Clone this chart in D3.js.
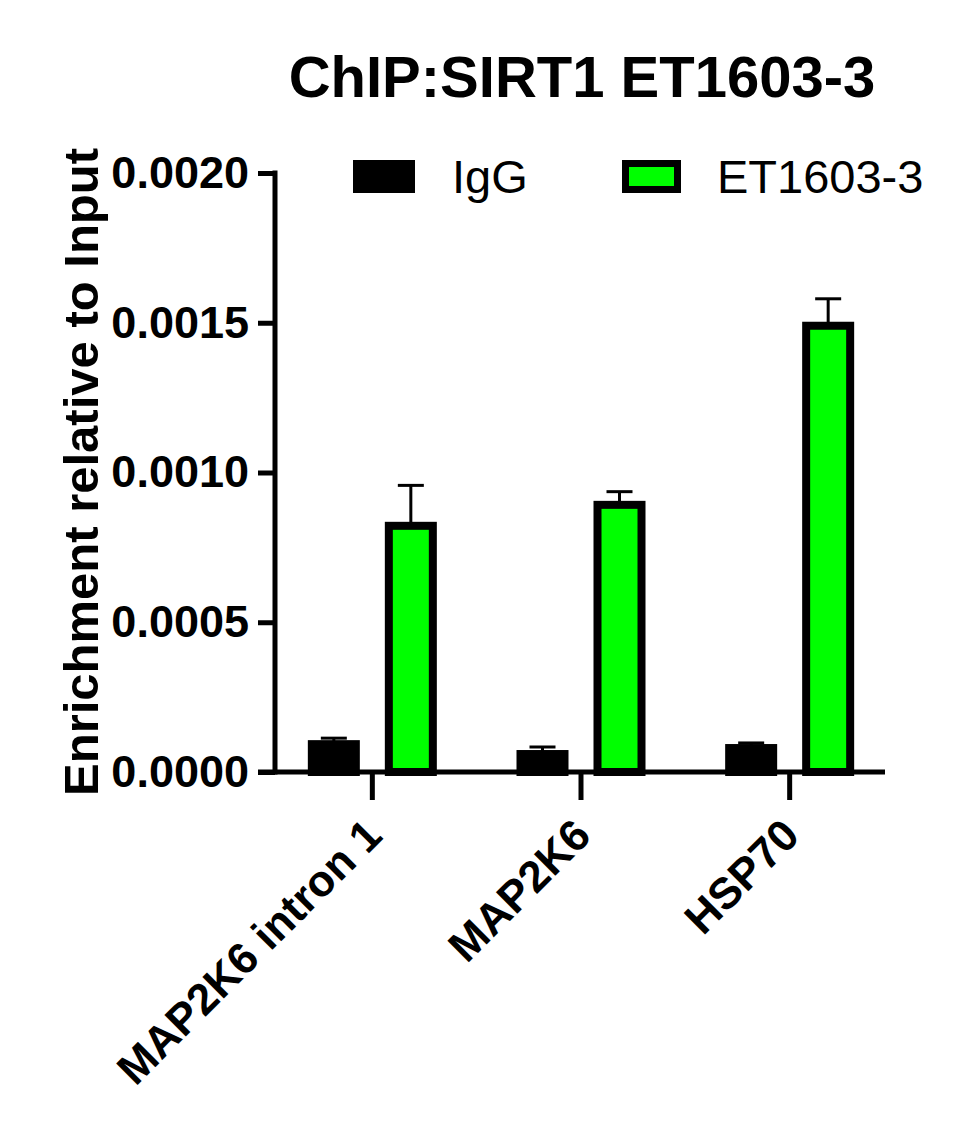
<!DOCTYPE html>
<html>
<head>
<meta charset="utf-8">
<script src="https://cdn.jsdelivr.net/npm/d3@7"></script>
<style>
  body { margin: 0; background: #fff; }
  svg { display: block; font-family: "Liberation Sans", Arial, sans-serif; }
</style>
</head>
<body>
<svg id="chart"></svg>
<script>
// data
const categories = ["MAP2K6 intron 1", "MAP2K6", "HSP70"];
const seriesNames = ["IgG", "ET1603-3"];
const iggMean = [0.000093, 0.000060, 0.000080];
const iggErr = [0.000020, 0.0000235, 0.000017];
const etMean = [0.000822, 0.000892, 0.00149];
const etErr = [0.000135, 0.000044, 0.00009];
const yTicks = [0, 0.0005, 0.0010, 0.0015, 0.0020];

const width = 971, height = 1146;
const axisX = 275, axisY = 772, axisTop = 173, axisRight = 885;
const barW = 44, barStroke = 8;
const colors = { "IgG": "#000000", "ET1603-3": "#00ff00" };

const svg = d3.select("#chart")
  .attr("width", width)
  .attr("height", height);

// scales
const y = d3.scaleLinear().domain([0, 0.002]).range([axisY, axisTop]);
const x = d3.scaleBand().domain(categories).range([268, 894]);
const xSub = d3.scalePoint().domain(seriesNames).range([-38.5, 38.5]);

const rows = [];
categories.forEach((c, i) => {
  rows.push({ cat: c, s: "IgG", v: iggMean[i], e: iggErr[i] });
  rows.push({ cat: c, s: "ET1603-3", v: etMean[i], e: etErr[i] });
});
const cx = d => x(d.cat) + x.bandwidth() / 2 + xSub(d.s);

// error bars (drawn under bars)
const err = svg.append("g")
  .attr("stroke", "#000")
  .attr("stroke-width", 3);
err.selectAll("line.stem")
  .data(rows)
  .join("line")
  .attr("class", "stem")
  .attr("x1", cx).attr("x2", cx)
  .attr("y1", d => y(d.v))
  .attr("y2", d => y(d.v + d.e));
err.selectAll("line.cap")
  .data(rows)
  .join("line")
  .attr("class", "cap")
  .attr("x1", d => cx(d) - 13).attr("x2", d => cx(d) + 13)
  .attr("y1", d => y(d.v + d.e))
  .attr("y2", d => y(d.v + d.e));

// bars
svg.append("g")
  .selectAll("rect")
  .data(rows)
  .join("rect")
  .attr("x", d => cx(d) - barW / 2)
  .attr("width", barW)
  .attr("y", d => y(d.v))
  .attr("height", d => y(0) - y(d.v))
  .attr("fill", d => colors[d.s])
  .attr("stroke", "#000")
  .attr("stroke-width", barStroke);

// y axis
const yAxis = svg.append("g")
  .attr("transform", `translate(${axisX},0)`)
  .call(d3.axisLeft(y)
    .tickValues(yTicks)
    .tickFormat(d3.format(".4f"))
    .tickSize(17)
    .tickSizeOuter(0)
    .tickPadding(9));
yAxis.select(".domain").remove();
yAxis.selectAll(".tick line").attr("stroke", "#000").attr("stroke-width", 5);
yAxis.selectAll(".tick text")
  .attr("fill", "#000")
  .style("font-size", "45px")
  .style("font-weight", "bold");
yAxis.append("line")
  .attr("x1", 0).attr("x2", 0)
  .attr("y1", y(0.002) - 2.5).attr("y2", y(0) + 2.5)
  .attr("stroke", "#000").attr("stroke-width", 5);

// x axis
const xAxis = svg.append("g")
  .attr("transform", `translate(0,${axisY})`)
  .call(d3.axisBottom(x).tickSize(28).tickSizeOuter(0));
xAxis.select(".domain").remove();
xAxis.selectAll(".tick line").attr("stroke", "#000").attr("stroke-width", 5);
xAxis.selectAll(".tick text").remove();
xAxis.append("line")
  .attr("x1", axisX - 17).attr("x2", axisRight)
  .attr("y1", 0).attr("y2", 0)
  .attr("stroke", "#000").attr("stroke-width", 5);

svg.append("g")
  .selectAll("text")
  .data(categories)
  .join("text")
  .attr("transform", d => `translate(${x(d) + x.bandwidth() / 2 + 12},838) rotate(-45)`)
  .attr("text-anchor", "end")
  .style("font-size", "44px")
  .style("font-weight", "bold")
  .text(d => d);

// y label
svg.append("text")
  .attr("transform", `translate(98,472) rotate(-90)`)
  .attr("text-anchor", "middle")
  .style("font-size", "49px")
  .style("font-weight", "bold")
  .text("Enrichment relative to Input");

// title
svg.append("text")
  .attr("x", 582)
  .attr("y", 97)
  .attr("text-anchor", "middle")
  .style("font-size", "58px")
  .style("font-weight", "bold")
  .text("ChIP:SIRT1 ET1603-3");

// legend
const legendX = [353, 622];
const legend = svg.append("g")
  .selectAll("g")
  .data(seriesNames)
  .join("g")
  .attr("transform", (d, i) => `translate(${legendX[i]},160)`);
legend.append("rect")
  .attr("x", d => d === "IgG" ? 0 : 3.5)
  .attr("y", d => d === "IgG" ? 0 : 3.5)
  .attr("width", d => d === "IgG" ? 62 : 52)
  .attr("height", d => d === "IgG" ? 33 : 26)
  .attr("fill", d => colors[d])
  .attr("stroke", "#000")
  .attr("stroke-width", d => d === "IgG" ? 0 : 7);
legend.append("text")
  .attr("x", d => d === "IgG" ? 99 : 95)
  .attr("y", 33)
  .style("font-size", "47px")
  .text(d => d);
</script>
</body>
</html>
